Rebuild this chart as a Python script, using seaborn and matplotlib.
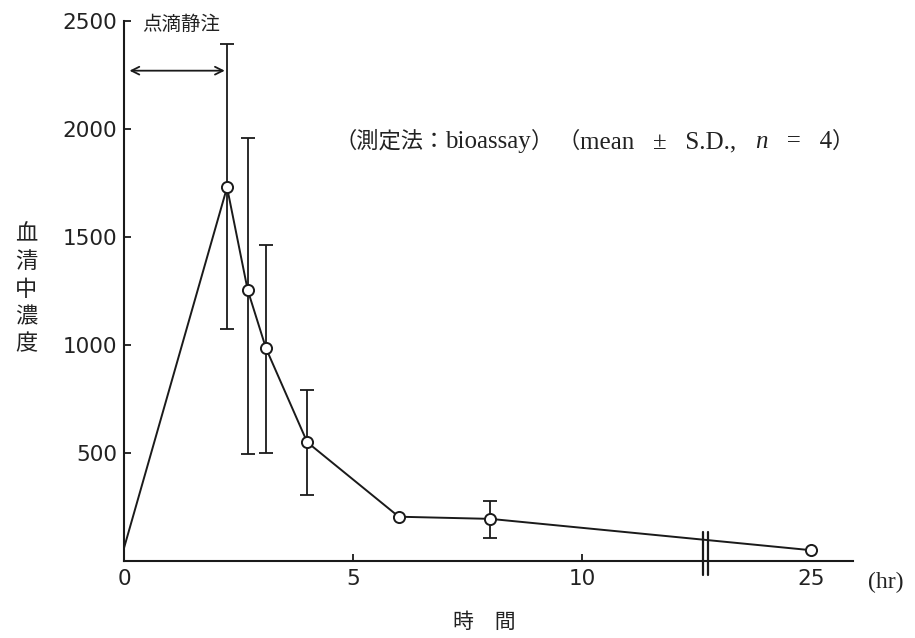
import numpy as np
import pandas as pd
from matplotlib import pyplot as plt
import seaborn as sns

# Serum level after drip infusion
time_hr = [0, 2.25, 2.7, 3.1, 4, 6, 8, 25]
conc_mean = [60, 1730, 1255, 985, 550, 205, 195, 50]
bar_low = [np.nan, 1075, 495, 500, 305, np.nan, 105, np.nan]
bar_high = [np.nan, 2395, 1960, 1465, 790, np.nan, 280, np.nan]

x_ticks_hr = [0, 5, 10, 25]
x_tick_labels = ['0', '5', '10', '25']
y_ticks = [500, 1000, 1500, 2000, 2500]
infusion_hr = [0.12, 2.2]

# the time axis is broken after ~12.7 hr and squeezed up to 25 hr
BREAK = 12.7
SQUEEZE = 0.187
INK = '#1a1a1a'
CJK = ['Noto Sans CJK JP']
SERIF = ['Liberation Serif', 'Noto Sans CJK JP']


def axis_pos(t):
    t = np.asarray(t, dtype=float)
    return np.where(t <= BREAK, t, BREAK + (t - BREAK) * SQUEEZE)


def text_run(fig, x_px, y_px, pieces):
    # write mixed CJK / serif pieces one after another on a common baseline
    renderer = fig.canvas.get_renderer()
    w, h = fig.bbox.width, fig.bbox.height
    for s, family, size, style in pieces:
        t = fig.text(x_px / w, 1 - y_px / h, s, family=family, fontsize=size,
                     fontstyle=style, ha='left', va='baseline', color='#222222')
        x_px += t.get_window_extent(renderer).width


if __name__ == '__main__':
    sns.set_style('ticks')
    plt.rcParams['font.family'] = ['DejaVu Sans', 'Noto Sans CJK JP']

    fig = plt.figure(figsize=(9.15, 6.38), dpi=100)
    ax = fig.add_axes([124 / 915, 1 - 561 / 638, 729 / 915, 540 / 638])

    data = pd.DataFrame({'x': axis_pos(time_hr), 'conc': conc_mean,
                         'low': bar_low, 'high': bar_high})
    err = data.dropna()
    ax.errorbar(err['x'], err['conc'],
                yerr=[err['conc'] - err['low'], err['high'] - err['conc']],
                fmt='none', ecolor=INK, elinewidth=1.3, capsize=5, capthick=1.3, zorder=2)
    sns.lineplot(data=data, x='x', y='conc', ax=ax, color=INK, lw=1.4,
                 marker='o', markersize=8, markerfacecolor='white',
                 markeredgecolor=INK, markeredgewidth=1.4, markevery=slice(1, None),
                 zorder=3, clip_on=False)

    ax.set_xlim(0, 729 / 45.8)
    ax.set_ylim(0, 2500)
    sns.despine(ax=ax)
    for side in ['left', 'bottom']:
        ax.spines[side].set_linewidth(1.5)
        ax.spines[side].set_color(INK)

    ax.set_xticks(axis_pos(x_ticks_hr), x_tick_labels)
    ax.set_yticks(y_ticks)
    ax.tick_params(direction='in', length=5, width=1.3, color=INK,
                   labelsize=15.5, labelcolor='#222222')
    ax.tick_params(axis='x', pad=6)
    ax.tick_params(axis='y', pad=5)
    ax.xaxis.get_major_ticks()[0].tick1line.set_visible(False)
    ax.xaxis.get_major_ticks()[-1].tick1line.set_visible(False)
    ax.set_xlabel('')
    ax.set_ylabel('')

    # axis break marks
    for dx in [-0.05, 0.05]:
        ax.plot([BREAK + dx, BREAK + dx], [-65, 135], color=INK, lw=1.6,
                clip_on=False, zorder=4)

    # infusion period
    ax.annotate('', xy=(infusion_hr[0], 2270), xytext=(infusion_hr[1], 2270),
                arrowprops=dict(arrowstyle='<->', lw=1.3, color=INK,
                                shrinkA=0, shrinkB=0, mutation_scale=14))
    ax.text(0.39, 2485, '点滴静注', fontsize=14, va='center', ha='left',
            family=CJK, color='#222222')

    text_run(fig, 334, 148, [
        ('（測定法：', CJK, 16, 'normal'),
        ('bioassay', SERIF, 18, 'normal'),
        ('）', CJK, 16, 'normal'),
        (' （', CJK, 16, 'normal'),
        ('mean   ±   S.D.,   ', SERIF, 18, 'normal'),
        ('n', SERIF, 18, 'italic'),
        ('   =   4', SERIF, 18, 'normal'),
        ('）', CJK, 16, 'normal'),
    ])

    fig.text(26 / 915, 1 - 289 / 638, '\n'.join('血清中濃度'), fontsize=16,
             family=CJK, ha='center', va='center', linespacing=1.25, color='#222222')
    fig.text(484 / 915, 1 - 622 / 638, '時　間', fontsize=15,
             family=CJK, ha='center', va='center', color='#222222')
    fig.text(868 / 915, 1 - 582 / 638, '(hr)', fontsize=17,
             family=SERIF, ha='left', va='center', color='#222222')

    fig.savefig('out.png', dpi=100)
